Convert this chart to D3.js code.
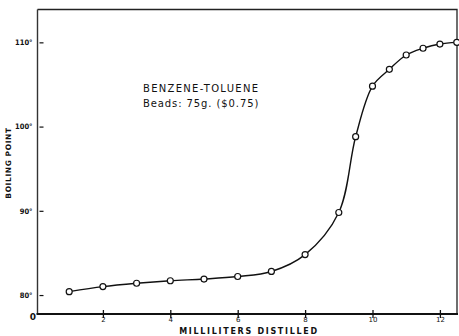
<!DOCTYPE html>
<html>
<head>
<meta charset="utf-8">
<script src="https://cdn.jsdelivr.net/npm/d3@7"></script>
<style>
  html, body { margin: 0; padding: 0; background: #fff; }
  svg { display: block; }
  text { font-family: "DejaVu Sans", sans-serif; fill: #111; }
</style>
</head>
<body>
<svg id="chart" width="459" height="336"></svg>
<script>
// Milliliters distilled vs. boiling point of the distillate
const milliliters = [1, 2, 3, 4, 5, 6, 7, 8, 9, 9.5, 10, 10.5, 11, 11.5, 12, 12.5];
const boilingPoint = [80.4, 81.0, 81.4, 81.7, 81.9, 82.2, 82.8, 84.8, 89.8, 98.8, 104.8, 106.8, 108.5, 109.3, 109.8, 110.0];
const xTickValues = [2, 4, 6, 8, 10, 12];
const yTickValues = [80, 90, 100, 110];
const yTickLabels = ["80°", "90°", "100°", "110°"];
const noteLines = ["BENZENE-TOLUENE", "Beads: 75g. ($0.75)"];

const svg = d3.select("#chart");
const plotLeft = 37.5, plotRight = 457, plotTop = 9.5, plotBottom = 314;

const x = d3.scaleLinear().domain([0, 12.5]).range([35.5, 456.75]);
const y = d3.scaleLinear().domain([77.75, 113.9]).range([plotBottom, plotTop]);

// frame: top and right edges
svg.append("path")
  .attr("d", `M${plotLeft},${plotTop}H${plotRight}V${plotBottom}`)
  .attr("fill", "none").attr("stroke", "#222").attr("stroke-width", 1.3);

// left axis
const yAxis = svg.append("g")
  .attr("transform", `translate(${plotLeft},0)`)
  .call(d3.axisLeft(y).tickValues(yTickValues)
    .tickFormat((d, i) => yTickLabels[i]).tickSizeInner(0).tickSizeOuter(0).tickPadding(5));
yAxis.select(".domain").attr("stroke", "#333").attr("stroke-width", 1.4)
  .attr("d", `M0,${plotTop}V${plotBottom}`);
yAxis.selectAll(".tick line").attr("x1", 2).attr("x2", 6).attr("stroke", "#111").attr("stroke-width", 1.2);
yAxis.selectAll(".tick text").attr("font-size", 7.5).attr("font-weight", "bold")
  .style("font-family", "DejaVu Sans Condensed, DejaVu Sans, sans-serif");

// bottom axis
const xAxis = svg.append("g")
  .attr("transform", `translate(0,${plotBottom})`)
  .call(d3.axisBottom(x).tickValues(xTickValues).tickSizeInner(0).tickSizeOuter(0));
xAxis.select(".domain").attr("stroke", "#111").attr("stroke-width", 2)
  .attr("d", `M${plotLeft - 1},0H${plotRight + 1}`);
xAxis.selectAll(".tick line").attr("y1", -4).attr("y2", 4).attr("stroke", "#111").attr("stroke-width", 1.3);
xAxis.selectAll(".tick text").attr("font-size", 7).attr("y", 3).attr("dy", "0.71em");

// origin label
svg.append("text")
  .attr("x", 33).attr("y", 320)
  .attr("text-anchor", "middle").attr("font-size", 9).attr("font-weight", "bold")
  .text("0");

// axis titles
svg.append("text")
  .attr("x", 249).attr("y", 334)
  .attr("text-anchor", "middle").attr("font-size", 8).attr("font-weight", "bold")
  .attr("letter-spacing", 1.7)
  .text("MILLILITERS DISTILLED");

svg.append("text")
  .attr("transform", "translate(11,163) rotate(-90)")
  .attr("text-anchor", "middle").attr("font-size", 7.5).attr("font-weight", "bold")
  .attr("letter-spacing", 0.6)
  .text("BOILING POINT");

// annotation
svg.selectAll("text.note")
  .data(noteLines)
  .join("text")
  .attr("class", "note")
  .attr("x", 143).attr("y", (d, i) => 92 + i * 14.5)
  .attr("font-size", 10).attr("letter-spacing", (d, i) => i === 0 ? 1.3 : 0.9)
  .text(d => d);

// curve through the readings
const pts = milliliters.map((m, i) => [m, boilingPoint[i]]);
svg.append("path")
  .datum(pts)
  .attr("fill", "none").attr("stroke", "#111").attr("stroke-width", 1.4)
  .attr("d", d3.line().x(d => x(d[0])).y(d => y(d[1])).curve(d3.curveCatmullRom.alpha(0.5)));

// measured points
svg.selectAll("circle.pt")
  .data(pts)
  .join("circle")
  .attr("class", "pt")
  .attr("cx", d => x(d[0])).attr("cy", d => y(d[1]))
  .attr("r", 3).attr("fill", "#fff").attr("stroke", "#111").attr("stroke-width", 1.2);
</script>
</body>
</html>
